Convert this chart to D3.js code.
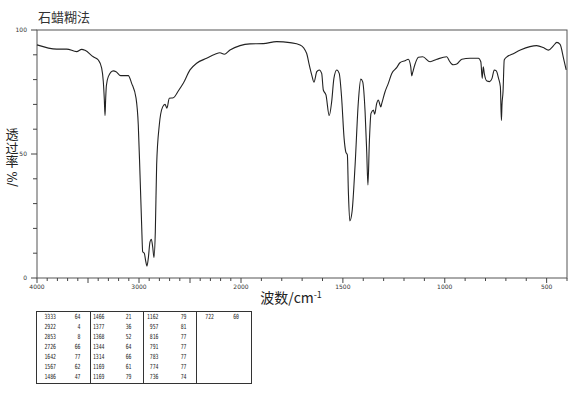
<!DOCTYPE html>
<html><head><meta charset="utf-8">
<script src="https://cdn.jsdelivr.net/npm/d3@7"></script>
<style>
html,body{margin:0;padding:0;background:#fff;}
svg{display:block;}
</style></head>
<body>
<svg id="c" width="570" height="395"></svg>
<script>
const title = "石蜡糊法";
const xTitle = "波数/cm";
const yTitle = "透过率";
const xTickLabels = [4000, 3000, 2000, 1500, 1000, 500];
const yTickLabels = [0, 50, 100];

// spectrum (wavenumber, % transmittance)
const wavenumber = [4000,3807,3709,3611,3562,3529,3448,3399,3366,3350,3340,3333,3327,3320,3301,3252,3225,3180,3105,3072,3029,3007,2990,2974,2964,2948,2935,2922,2909,2892,2879,2866,2853,2840,2827,2801,2768,2745,2726,2703,2664,2615,2566,2500,2435,2337,2255,2206,2164,2108,2010,1956,1891,1825,1760,1710,1678,1665,1653,1642,1628,1616,1604,1596,1583,1567,1555,1544,1530,1518,1506,1494,1486,1478,1473,1466,1455,1440,1424,1412,1403,1391,1383,1377,1370,1362,1350,1344,1334,1326,1318,1314,1309,1293,1277,1260,1236,1220,1195,1179,1167,1162,1157,1146,1129,1108,1072,1039,990,978,966,957,941,916,876,835,823,816,811,806,793,780,768,757,747,736,727,722,719,714,708,695,670,629,582,549,516,491,466,450,434,417,404];
const transmittance = [94,92.3,92.3,91.3,92.2,91.8,89.2,87.9,84.6,79.2,72,65.5,72,77.5,81.2,83.5,83.2,81.6,81.6,78.5,72.5,61.7,41.5,21.4,10.6,10,7,4.8,7.9,14.6,15.6,12.6,8.3,18.7,45.6,61.7,69,70,68.5,72.5,72.7,75.4,78.5,83.9,86.6,88.6,90.2,90.8,90.2,91.9,93.7,94.4,94.5,95.3,94.9,94,90.6,85.9,81.9,79,83.2,83.9,82.5,75.8,73.8,65.5,71.1,80.5,83.9,82.5,72.5,56.3,51,49.6,34.8,23,26.7,45.6,71.1,80.2,79.2,67,50.9,37.5,55,66.4,67.7,66,70.4,71.8,69.8,69,70.4,75.1,78.5,82.5,84.8,86.8,87.6,88.2,85.2,81.5,83,86.2,89,89.2,87.2,88.2,89.2,87.6,86.3,86,86.3,88.2,88.6,88.6,87.2,80.5,85.2,82.5,79.4,79.2,80.5,83.9,83.5,80.5,77.1,63.5,70,75.1,87.9,89.2,90.2,91.9,93.3,93.7,92.9,91.9,93.7,95,94.2,88.6,83.9];

// peak table
const peakWn = [3333,2922,2853,2726,1642,1567,1486,1466,1377,1368,1344,1314,1169,1169,1162,957,816,791,783,774,736,722];
const peakT  = [64,4,8,66,77,62,47,21,36,52,64,66,61,79,79,81,77,77,77,77,74,60];

const svg = d3.select("#c");
const L = 37, R = 567, T = 30, B = 278;
const x = d3.scaleLinear().domain([4000, 2000, 400]).range([L, 241, R]);
const y = d3.scaleLinear().domain([0, 100]).range([B, T]);
const ink = "#222";
const tickFont = "'DejaVu Sans', sans-serif";

// title
svg.append("text").attr("x", 38).attr("y", 22)
  .attr("font-family", "'Noto Sans CJK SC', sans-serif").attr("font-size", 13)
  .attr("fill", "#333").text(title);

// frame
svg.append("rect").attr("x", L).attr("y", T).attr("width", R - L).attr("height", B - T)
  .attr("fill", "none").attr("stroke", "#555").attr("stroke-width", 1);

// y ticks
const yTicks = d3.range(0, 101, 10);
svg.append("g").selectAll("line").data(yTicks).join("line")
  .attr("x1", d => yTickLabels.includes(d) ? L - 6 : L - 4).attr("x2", L)
  .attr("y1", d => y(d)).attr("y2", d => y(d))
  .attr("stroke", "#444").attr("stroke-width", 1);
svg.append("g").selectAll("text").data(yTickLabels).join("text")
  .attr("x", 27).attr("y", d => y(d) + 2)
  .attr("text-anchor", "end").attr("font-family", tickFont).attr("font-size", 6)
  .attr("fill", "#333").text(d => d);

// x ticks
const xTicks = d3.range(4000, 399, -100);
svg.append("g").selectAll("line").data(xTicks).join("line")
  .attr("x1", d => x(d)).attr("x2", d => x(d))
  .attr("y1", B).attr("y2", d => d % 500 === 0 ? B + 5 : B + 3)
  .attr("stroke", "#444").attr("stroke-width", 1);
svg.append("g").selectAll("text").data(xTickLabels).join("text")
  .attr("x", d => x(d)).attr("y", 289)
  .attr("text-anchor", "middle").attr("font-family", tickFont).attr("font-size", 6)
  .attr("fill", "#333").text(d => d);

// axis titles
const xt = svg.append("text").attr("x", 291).attr("y", 303).attr("text-anchor", "middle")
  .attr("font-family", "'Noto Sans CJK SC', serif").attr("font-size", 14).attr("fill", "#222");
xt.append("tspan").text(xTitle);
xt.append("tspan").attr("dy", -5).attr("font-size", 9).text("-1");

svg.append("text").attr("x", 12).attr("y", 128)
  .style("writing-mode", "vertical-rl").style("text-orientation", "upright")
  .attr("letter-spacing", 0.5)
  .attr("font-family", "'Noto Sans CJK SC', sans-serif").attr("font-size", 13)
  .attr("fill", "#222").text(yTitle);
svg.append("text").attr("transform", "translate(16.5,179) rotate(-90)").attr("text-anchor", "middle")
  .attr("font-family", "'DejaVu Serif', serif").attr("font-size", 12).attr("fill", "#222").text("/%");

// spectrum
const pts = wavenumber.map((w, i) => [w, transmittance[i]]);
svg.append("path").datum(pts)
  .attr("d", d3.line().x(d => x(d[0])).y(d => y(d[1])).curve(d3.curveMonotoneX))
  .attr("fill", "none").attr("stroke", ink).attr("stroke-width", 1.1);

// peak table
const tx = 36, ty = 311, tw = 215, th = 72;
const colX = [36, 90, 143, 196, 251];
const tg = svg.append("g");
tg.append("rect").attr("x", tx + 0.5).attr("y", ty + 0.5).attr("width", tw).attr("height", th)
  .attr("fill", "none").attr("stroke", "#333").attr("stroke-width", 1);
colX.slice(1, 4).forEach(cx => {
  tg.append("line").attr("x1", cx + 0.5).attr("x2", cx + 0.5).attr("y1", ty).attr("y2", ty + th)
    .attr("stroke", "#333").attr("stroke-width", 1);
});
const wnRight = [56, 104.5, 158.5, 214];
const vRight = [80.5, 131.5, 186.5, 239];
peakWn.forEach((w, i) => {
  const c = Math.floor(i / 7), r = i % 7;
  const yy = 318.8 + r * 10;
  const s1 = String(w), s2 = String(peakT[i]);
  tg.append("text").attr("x", wnRight[c]).attr("y", yy).attr("text-anchor", "end")
    .attr("font-family", "'DejaVu Sans Mono', monospace").attr("font-size", 7)
    .attr("textLength", s1.length * 2.9).attr("lengthAdjust", "spacingAndGlyphs")
    .attr("fill", "#222").text(s1);
  tg.append("text").attr("x", vRight[c]).attr("y", yy).attr("text-anchor", "end")
    .attr("font-family", "'DejaVu Sans Mono', monospace").attr("font-size", 7)
    .attr("textLength", s2.length * 2.9).attr("lengthAdjust", "spacingAndGlyphs")
    .attr("fill", "#222").text(s2);
});
</script>
</body></html>
